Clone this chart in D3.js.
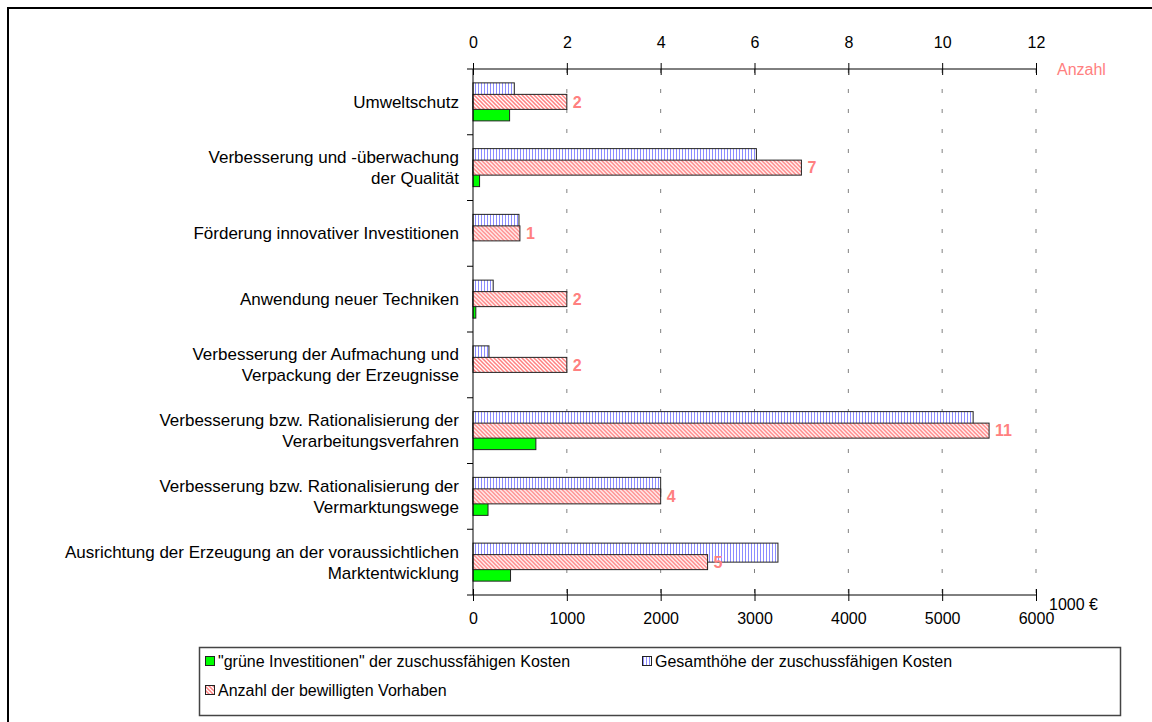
<!DOCTYPE html>
<html>
<head>
<meta charset="utf-8">
<script src="https://cdn.jsdelivr.net/npm/d3@7"></script>
<style>
	body { margin: 0; background: #fff; }
	svg { display: block; font-family: "Liberation Sans", Arial, sans-serif; }
</style>
</head>
<body>
<script>

// categories, top to bottom (line breaks as in the original)
const categories = [
	['Umweltschutz'],
	['Verbesserung und -überwachung', 'der Qualität'],
	['Förderung innovativer Investitionen'],
	['Anwendung neuer Techniken'],
	['Verbesserung der Aufmachung und', 'Verpackung der Erzeugnisse'],
	['Verbesserung bzw. Rationalisierung der', 'Verarbeitungsverfahren'],
	['Verbesserung bzw. Rationalisierung der', 'Vermarktungswege'],
	['Ausrichtung der Erzeugung an der voraussichtlichen', 'Marktentwicklung']
]

// 1000 €
const gruen = [390, 70, 0, 30, 0, 670, 160, 400]
const gesamt = [440, 3020, 490, 215, 170, 5330, 2000, 3250]
// number of projects (top axis)
const anzahl = [2, 7, 1, 2, 2, 11, 4, 5]

const euroTicks = [0, 1000, 2000, 3000, 4000, 5000, 6000]
const anzahlTicks = [0, 2, 4, 6, 8, 10, 12]

const legendItems = [
	{ key: 'gruen', text: '"grüne Investitionen" der zuschussfähigen Kosten' },
	{ key: 'gesamt', text: 'Gesamthöhe der zuschussfähigen Kosten' },
	{ key: 'anzahl', text: 'Anzahl der bewilligten Vorhaben' }
]

const salmon = '#ff8080'
const W = 1152, H = 722
const labelSize = 17, tickSize = 16, legendSize = 16

const svg = d3.select('body').append('svg')
	.attr('width', W)
	.attr('height', H)

// patterns
const defs = svg.append('defs')
let pBlue = defs.append('pattern').attr('id', 'pBlue')
	.attr('patternUnits', 'userSpaceOnUse').attr('width', 3).attr('height', 3)
pBlue.append('rect').attr('width', 3).attr('height', 3).attr('fill', '#fff')
pBlue.append('rect').attr('x', 1).attr('width', 1).attr('height', 3).attr('fill', '#8c8cff')

let pRed = defs.append('pattern').attr('id', 'pRed')
	.attr('patternUnits', 'userSpaceOnUse').attr('width', 4).attr('height', 4)
pRed.append('rect').attr('width', 4).attr('height', 4).attr('fill', '#fff')
pRed.append('path').attr('d', 'M-1,-1L5,5M-1,3L1,5M3,-1L5,1')
	.attr('stroke', salmon).attr('stroke-width', 1.5)

const fills = { gruen: '#00ff00', gesamt: 'url(#pBlue)', anzahl: 'url(#pRed)' }

// outer frame (only left and top edge are in the picture)
svg.append('rect')
	.attr('x', 8).attr('y', 8).attr('width', 1300).attr('height', 900)
	.attr('fill', 'none').attr('stroke', '#000').attr('stroke-width', 2)

// scales
const x = d3.scaleLinear().domain([0, 6000]).range([473, 1036])
const xTop = d3.scaleLinear().domain([0, 12]).range([473, 1036])
const y = d3.scaleBand().domain(d3.range(categories.length)).range([69, 595])
const yPrim = d3.scaleBand().domain(['gesamt', 'gruen']).range([0, y.bandwidth()]).paddingOuter(0.73)
const ySec = d3.scaleBand().domain(['anzahl']).range([0, y.bandwidth()]).paddingOuter(1.69)

// dashed gridlines
svg.append('g').selectAll('line')
	.data(euroTicks.slice(1))
	.join('line')
	.attr('x1', d => x(d)).attr('x2', d => x(d))
	.attr('y1', 69).attr('y2', 595)
	.attr('stroke', '#808080')
	.attr('stroke-dasharray', '4,16')

// bars: primary axis
const groups = svg.append('g').selectAll('g')
	.data(categories.map((c, i) => i))
	.join('g')
	.attr('transform', i => 'translate(0,' + y(i) + ')')

groups.append('rect')
	.attr('x', x(0)).attr('y', yPrim('gesamt'))
	.attr('width', i => x(gesamt[i]) - x(0))
	.attr('height', yPrim.bandwidth())
	.attr('fill', fills.gesamt).attr('stroke', '#222')

groups.filter(i => gruen[i] > 0).append('rect')
	.attr('x', x(0)).attr('y', yPrim('gruen'))
	.attr('width', i => x(gruen[i]) - x(0))
	.attr('height', yPrim.bandwidth())
	.attr('fill', fills.gruen).attr('stroke', '#222')

// bars: secondary axis, drawn on top
groups.append('rect')
	.attr('x', xTop(0)).attr('y', ySec('anzahl'))
	.attr('width', i => xTop(anzahl[i]) - xTop(0))
	.attr('height', ySec.bandwidth())
	.attr('fill', fills.anzahl).attr('stroke', '#222')

groups.append('text')
	.attr('x', i => xTop(anzahl[i]) + 6)
	.attr('y', ySec('anzahl') + ySec.bandwidth() / 2)
	.attr('dy', '0.36em')
	.attr('font-size', tickSize).attr('font-weight', 'bold')
	.attr('fill', salmon)
	.text(i => anzahl[i])

// category labels
groups.append('text')
	.attr('text-anchor', 'end')
	.attr('font-size', labelSize)
	.attr('fill', '#000')
	.each(function(i) {
		let lines = categories[i]
		let t = d3.select(this)
		lines.forEach((l, k) => {
			t.append('tspan')
				.attr('x', 459)
				.attr('y', y.bandwidth() / 2 + (k - (lines.length - 1) / 2) * 21)
				.attr('dy', '0.36em')
				.text(l)
		})
	})

// category axis
svg.append('line')
	.attr('x1', 473).attr('x2', 473).attr('y1', 69).attr('y2', 595)
	.attr('stroke', '#000')
svg.append('g').selectAll('line')
	.data(d3.range(categories.length + 1))
	.join('line')
	.attr('x1', 467).attr('x2', 473)
	.attr('y1', i => i < categories.length ? y(i) : 595)
	.attr('y2', i => i < categories.length ? y(i) : 595)
	.attr('stroke', '#000')

// value axes with crossing ticks
function crossTicks(g) {
	g.select('.domain').attr('d', 'M473,0H1036')
	g.selectAll('.tick line').attr('y1', -6).attr('y2', 6)
	g.selectAll('.tick text').attr('font-size', tickSize).attr('fill', '#000')
	g.attr('font-family', null)
}

svg.append('g')
	.attr('transform', 'translate(0,69)')
	.call(d3.axisTop(xTop).tickValues(anzahlTicks).tickFormat(d3.format('d')))
	.call(crossTicks)
	.call(g => g.selectAll('.tick text').attr('y', -21))

svg.append('g')
	.attr('transform', 'translate(0,595)')
	.call(d3.axisBottom(x).tickValues(euroTicks).tickFormat(d3.format('d')))
	.call(crossTicks)
	.call(g => g.selectAll('.tick text').attr('y', 18))

svg.append('text')
	.attr('x', 1057).attr('y', 75)
	.attr('font-size', tickSize).attr('fill', salmon)
	.text('Anzahl')

svg.append('text')
	.attr('x', 1049).attr('y', 610)
	.attr('font-size', tickSize).attr('fill', '#000')
	.text('1000 €')

// legend
const legend = svg.append('g')
legend.append('rect')
	.attr('x', 199.5).attr('y', 647.5).attr('width', 921).attr('height', 68)
	.attr('fill', '#fff').attr('stroke', '#444').attr('stroke-width', 1.5)

const legPos = [[205, 661], [642, 661], [205, 690]]
const li = legend.selectAll('g.item')
	.data(legendItems)
	.join('g')
	.attr('class', 'item')
	.attr('transform', (d, i) => 'translate(' + legPos[i][0] + ',' + legPos[i][1] + ')')

li.append('rect')
	.attr('x', 0.5).attr('y', -4.5).attr('width', 9).attr('height', 9)
	.attr('fill', d => fills[d.key]).attr('stroke', '#222')
li.append('text')
	.attr('x', 13).attr('dy', '0.36em')
	.attr('font-size', legendSize).attr('fill', '#000')
	.text(d => d.text)

</script>
</body>
</html>
